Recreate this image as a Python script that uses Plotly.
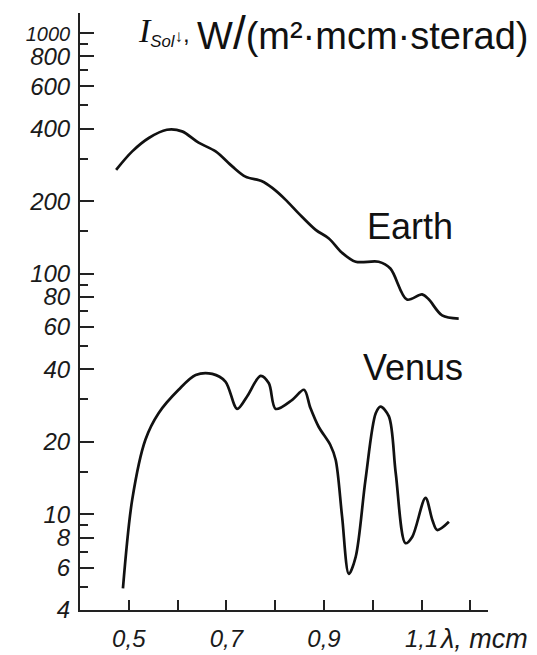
import math
import plotly.graph_objects as go

# ---- data ----
earth_x = [0.474, 0.507, 0.541, 0.578, 0.609, 0.643, 0.678, 0.712, 0.739, 0.773,
           0.794, 0.821, 0.848, 0.883, 0.910, 0.937, 0.965, 1.012, 1.036, 1.070,
           1.101, 1.115, 1.142, 1.176]
earth_y = [270, 322, 366, 396, 390, 350, 322, 279, 253, 242,
           227, 203, 178, 152, 140, 122, 112, 112, 105, 78,
           82, 78, 67, 65]

venus_x = [0.488, 0.507, 0.534, 0.561, 0.602, 0.637, 0.671, 0.698, 0.722, 0.742,
           0.770, 0.787, 0.801, 0.835, 0.859, 0.872, 0.889, 0.913, 0.924, 0.937,
           0.951, 0.965, 0.985, 1.006, 1.016, 1.033, 1.047, 1.067, 1.081, 1.108,
           1.122, 1.132, 1.156]
venus_y = [4.92, 11.5, 20.4, 26.3, 32.9, 37.9, 38.3, 35.6, 27.4, 30.8,
           37.6, 35.0, 27.4, 29.9, 32.9, 27.7, 23.1, 19.4, 16.8, 9.8,
           5.65, 6.66, 13.9, 26.3, 28.0, 25.5, 14.8, 7.58, 8.07, 11.7,
           9.47, 8.6, 9.3]

x_tick_vals = [0.5, 0.6, 0.7, 0.8, 0.9, 1.0, 1.1, 1.2]
x_tick_text = ["0,5", "", "0,7", "", "0,9", "", "1,1", ""]

y_tick_vals = [4, 6, 8, 10, 20, 40, 60, 80, 100, 200, 400, 600, 800, 1000]
y_tick_text = ["4", "6", "8", "10", "20", "40", "60", "80", "100", "200", "400",
               "600", "800", '<span style="font-size:20px">1000</span>']
y_minor_vals = [5, 7, 9, 15, 30, 50, 70, 90, 150, 300, 500, 700, 900, 1200]

series_labels = ["Earth", "Venus"]

# ---- figure (page body has an 8px margin, so the figure is offset by 8px) ----
OFF = 8
W, H = 537 - OFF, 655 - OFF
L = 80 - OFF
T = 13 - OFF
B = H - (610 - OFF)
R = W - (488 - OFF)
pw, ph = W - L - R, H - T - B


def px_x(p):
    return (p - OFF - L) / pw


def px_y(p):
    return ((610 - OFF) - (p - OFF)) / ph


tick_font = dict(family="Liberation Sans Narrow, Liberation Sans, Arial, sans-serif",
                 size=24, color="#1a1a1a", style="italic")

fig = go.Figure()
fig.add_trace(go.Scatter(x=earth_x, y=earth_y, mode="lines", name=series_labels[0],
                         line=dict(color="#111111", width=2.7, shape="spline", smoothing=0.9),
                         showlegend=False))
fig.add_trace(go.Scatter(x=venus_x, y=venus_y, mode="lines", name=series_labels[1],
                         line=dict(color="#111111", width=2.7, shape="spline", smoothing=0.9),
                         showlegend=False))

fig.update_xaxes(range=[0.4, 0.4 + pw / 488.0], showgrid=False, zeroline=False,
                 showline=True, linecolor="#222", linewidth=2,
                 tickmode="array", tickvals=x_tick_vals, ticktext=x_tick_text,
                 ticks="inside", ticklen=10, tickwidth=2, tickcolor="#222",
                 tickfont=tick_font, ticklabelstandoff=6)
fig.update_yaxes(type="log", range=[math.log10(4), 3.083], showgrid=False, zeroline=False,
                 showline=True, linecolor="#222", linewidth=2,
                 tickmode="array", tickvals=y_tick_vals, ticktext=y_tick_text,
                 ticks="inside", ticklen=14, tickwidth=2, tickcolor="#222",
                 tickfont=tick_font, ticklabelstandoff=3,
                 minor=dict(tickvals=y_minor_vals, ticks="inside", ticklen=8,
                            tickwidth=2, tickcolor="#222"))

sans = "Liberation Sans, Arial, sans-serif"
ann = []
# axis unit on x
ann.append(dict(xref="paper", yref="paper", x=px_x(437), y=px_y(639),
                xanchor="left", yanchor="middle", showarrow=False,
                text="<i>λ, mcm</i>",
                font=dict(family=tick_font["family"], size=27, color="#1a1a1a")))
# y-axis quantity
ann.append(dict(xref="paper", yref="paper", x=px_x(192), y=px_y(32),
                xanchor="right", yanchor="middle", showarrow=False,
                text='<span style="font-family:Liberation Serif, Times New Roman, serif;font-size:34px"><i>I</i></span>'
                     '<sub><i>Sol</i></sub><span style="font-size:17px">↓</span>,',
                font=dict(family=sans, size=24, color="#111")))
ann.append(dict(xref="paper", yref="paper", x=px_x(531), y=px_y(33),
                xanchor="right", yanchor="middle", showarrow=False,
                text='W<span style="font-size:46px">/</span>(m²·mcm·sterad)',
                font=dict(family=sans, size=38, color="#111")))
# curve labels
ann.append(dict(xref="paper", yref="paper", x=px_x(410), y=px_y(226),
                xanchor="center", yanchor="middle", showarrow=False,
                text=series_labels[0], font=dict(family=sans, size=36, color="#111")))
ann.append(dict(xref="paper", yref="paper", x=px_x(413), y=px_y(368),
                xanchor="center", yanchor="middle", showarrow=False,
                text=series_labels[1], font=dict(family=sans, size=36, color="#111")))

fig.update_layout(width=W, height=H, margin=dict(l=L, r=R, t=T, b=B, autoexpand=False),
                  paper_bgcolor="white", plot_bgcolor="white", annotations=ann)

fig.write_html("out.html")
